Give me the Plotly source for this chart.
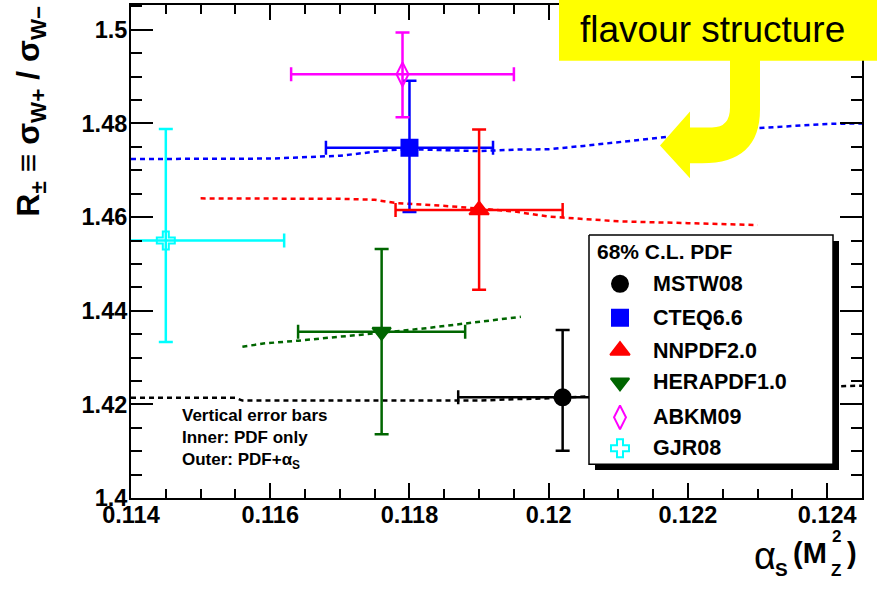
import plotly.graph_objects as go

# ---------------------------------------------------------------- data
pdf_sets = ["MSTW08", "CTEQ6.6", "NNPDF2.0", "HERAPDF1.0", "ABKM09", "GJR08"]
alphas_mz = [0.1202, 0.1180, 0.1190, 0.1176, 0.1179, 0.1145]
alphas_err_up = [0.0012, 0.0012, 0.0012, 0.0012, 0.0016, 0.0017]
alphas_err_down = [0.0015, 0.0012, 0.0012, 0.0012, 0.0016, 0.0017]
ratio = [1.4215, 1.4748, 1.4615, 1.4355, 1.4905, 1.4550]
ratio_err_up = [0.0144, 0.0143, 0.0172, 0.0177, 0.0089, 0.0238]
ratio_err_down = [0.0114, 0.0137, 0.0170, 0.0219, 0.0092, 0.0217]

# R(alpha_s) scans for each group
mstw_scan_alphas = [0.1140, 0.1150, 0.1155, 0.1156, 0.1170, 0.1180, 0.1190,
                    0.1195, 0.1200, 0.1210, 0.1220, 0.1230, 0.1240, 0.1245]
mstw_scan_ratio = [1.4214, 1.4215, 1.4214, 1.4208, 1.4208, 1.4208, 1.4208,
                   1.4211, 1.4213, 1.4220, 1.4227, 1.4233, 1.4238, 1.4240]
cteq_scan_alphas = [0.1140, 0.1150, 0.1160, 0.1170, 0.1177, 0.1180, 0.1190,
                    0.1195, 0.1200, 0.1205, 0.1210, 0.1213, 0.1220, 0.1230,
                    0.1240, 0.1245]
cteq_scan_ratio = [1.4724, 1.4724, 1.4725, 1.4731, 1.4743, 1.4745, 1.4741,
                   1.4744, 1.4745, 1.4752, 1.4760, 1.4765, 1.4776, 1.4790,
                   1.4799, 1.4800]
nnpdf_scan_alphas = [0.1150, 0.1160, 0.1170, 0.1175, 0.1178, 0.1186, 0.1190,
                     0.1195, 0.1200, 0.1210, 0.1220, 0.1230]
nnpdf_scan_ratio = [1.4640, 1.4640, 1.4639, 1.4637, 1.4630, 1.4623, 1.4618,
                    1.4612, 1.4601, 1.4591, 1.4587, 1.4583]
hera_scan_alphas = [0.1156, 0.1159, 0.1164, 0.1170, 0.1176, 0.1182, 0.1188,
                    0.1192, 0.1196]
hera_scan_ratio = [1.4323, 1.4330, 1.4336, 1.4344, 1.4353, 1.4362, 1.4373,
                   1.4380, 1.4387]

x_tick_vals = [0.114, 0.116, 0.118, 0.120, 0.122, 0.124]
x_tick_text = ["0.114", "0.116", "0.118", "0.12", "0.122", "0.124"]
y_tick_vals = [1.40, 1.42, 1.44, 1.46, 1.48, 1.50]
y_tick_text = ["1.4", "1.42", "1.44", "1.46", "1.48", "1.5"]

# ---------------------------------------------------------------- style
colors = ["#000000", "#0000ff", "#ff0000", "#006600", "#ff00ff", "#00ffff"]
symbols = ["circle", "square", "triangle-up", "triangle-down",
           "diamond-tall-open", "cross-open"]
sizes = [16, 16, 17, 16, 17, 15]

W, H = 877, 591
L, R, T, B = 131, 862, 3, 498          # plot-area edges in pixels
FONT = "Liberation Sans"


def px(x):
    return (x - L) / (R - L)


def py(y):
    return (B - y) / (B - T)


fig = go.Figure()

scans = [(mstw_scan_alphas, mstw_scan_ratio, colors[0]),
         (cteq_scan_alphas, cteq_scan_ratio, colors[1]),
         (nnpdf_scan_alphas, nnpdf_scan_ratio, colors[2]),
         (hera_scan_alphas, hera_scan_ratio, colors[3])]
for xs, ys, c in scans:
    fig.add_trace(go.Scatter(x=xs, y=ys, mode="lines", showlegend=False,
                             line=dict(color=c, width=2.5, dash="5px,4px"),
                             hoverinfo="skip"))

for i, name in enumerate(pdf_sets):
    fig.add_trace(go.Scatter(
        x=[alphas_mz[i]], y=[ratio[i]], mode="markers", name=name,
        showlegend=False,
        marker=dict(symbol=symbols[i], size=sizes[i], color=colors[i],
                    opacity=1, line=dict(color=colors[i], width=2)),
        error_x=dict(type="data", symmetric=False, array=[alphas_err_up[i]],
                     arrayminus=[alphas_err_down[i]], color=colors[i],
                     thickness=2.5, width=7),
        error_y=dict(type="data", symmetric=False, array=[ratio_err_up[i]],
                     arrayminus=[ratio_err_down[i]], color=colors[i],
                     thickness=2.5, width=7),
    ))

# ---------------------------------------------------------------- key box
# drawn on a pixel-scaled overlay so it sits above the data
bx0, by0, bx1, by1 = 589, 234, 833, 464
sh = 6
fig.add_trace(go.Scatter(
    x=[bx0 + sh, bx1 + sh, bx1 + sh, bx0 + sh, bx0 + sh],
    y=[by0 + sh, by0 + sh, by1 + sh, by1 + sh, by0 + sh],
    xaxis="x2", yaxis="y2", mode="lines", fill="toself",
    fillcolor="black", line=dict(color="black", width=0),
    showlegend=False, hoverinfo="skip"))
fig.add_trace(go.Scatter(
    x=[bx0, bx1, bx1, bx0, bx0], y=[by0, by0, by1, by1, by0],
    xaxis="x2", yaxis="y2", mode="lines", fill="toself",
    fillcolor="white", line=dict(color="black", width=1.5),
    showlegend=False, hoverinfo="skip"))
key_rows = [283, 317, 350, 382, 417, 448]
fig.add_trace(go.Scatter(
    x=[620] * len(pdf_sets), y=key_rows, xaxis="x2", yaxis="y2",
    mode="markers", cliponaxis=False, showlegend=False, hoverinfo="skip",
    marker=dict(symbol=symbols, size=sizes, color=colors, opacity=1,
                line=dict(color=colors, width=2))))

annotations = [
    dict(x=px(595), y=py(250), text="68% C.L. PDF", xanchor="left",
         yanchor="middle", font=dict(size=21, weight="bold")),
]
for name, yy in zip(pdf_sets, key_rows):
    annotations.append(dict(x=px(651), y=py(yy), text=name, xanchor="left",
                            yanchor="middle",
                            font=dict(size=21.5, weight="bold")))

# note on the error bars
annotations.append(dict(
    x=px(180), y=py(438.5), xanchor="left", yanchor="middle", align="left",
    text="Vertical error bars<br>Inner: PDF only<br>Outer: PDF+α<sub>S</sub>",
    font=dict(size=17, weight="bold")))

# y-axis title
annotations.append(dict(
    x=px(31), y=py(218), xanchor="center", yanchor="bottom", textangle=-90,
    text="R<sub>±</sub> ≡ σ<sub>W+</sub> / σ<sub>W−</sub>",
    font=dict(size=32, weight="bold")))

# x-axis title pieces
annotations += [
    dict(x=px(765), y=py(556), text="α", font=dict(size=38)),
    dict(x=px(781), y=py(570), text="S", font=dict(size=19, weight="bold")),
    dict(x=px(810), y=py(553), text="(M", font=dict(size=29, weight="bold")),
    dict(x=px(836), y=py(537), text="2", font=dict(size=17, weight="bold")),
    dict(x=px(836), y=py(571), text="Z", font=dict(size=17, weight="bold")),
    dict(x=px(852), y=py(553), text=")", font=dict(size=29, weight="bold")),
]
for a in annotations[-6:]:
    a.update(xanchor="center", yanchor="middle")

# callout
annotations.append(dict(x=px(712), y=py(28), text="flavour structure",
                        xanchor="center", yanchor="middle",
                        font=dict(size=37, color="black")))

for a in annotations:
    a.setdefault("showarrow", False)
    a.update(xref="paper", yref="paper")
    a["font"].setdefault("family", FONT)
    a["font"].setdefault("color", "black")

# yellow callout box and bent arrow
arrow_path = (
    f"M {px(730)},{py(55)} L {px(760)},{py(55)} L {px(760)},{py(108)} "
    f"Q {px(760)},{py(162)} {px(702)},{py(162)} "
    f"L {px(690)},{py(162)} L {px(690)},{py(177)} L {px(660)},{py(144)} "
    f"L {px(690)},{py(110)} L {px(690)},{py(126)} L {px(712)},{py(126)} "
    f"Q {px(730)},{py(126)} {px(730)},{py(106)} Z"
)
shapes = [
    dict(type="rect", xref="paper", yref="paper", x0=px(559), x1=px(890),
         y0=py(59), y1=py(-20), fillcolor="#ffff00", line=dict(width=0),
         layer="above"),
    dict(type="path", xref="paper", yref="paper", path=arrow_path,
         fillcolor="#ffff00", line=dict(width=0), layer="above"),
]

axis_common = dict(
    showline=True, linecolor="black", linewidth=2, mirror="ticks",
    ticks="inside", tickcolor="black", tickwidth=1.5,
    showgrid=False, zeroline=False,
    tickfont=dict(family=FONT, size=23.5, color="black", weight="bold"),
)

fig.update_layout(
    width=W, height=H,
    margin=dict(l=L, r=W - R, t=T, b=H - B, pad=0),
    paper_bgcolor="white", plot_bgcolor="white",
    xaxis=dict(range=[0.114, 0.1245], tickvals=x_tick_vals,
               ticktext=x_tick_text, ticklen=15, ticklabelstandoff=-5,
               minor=dict(dtick=0.0005, tick0=0.114, ticklen=9,
                          ticks="inside", tickcolor="black", tickwidth=1.5),
               **axis_common),
    yaxis=dict(range=[1.4, 1.5053], tickvals=y_tick_vals,
               ticktext=y_tick_text, ticklen=22, ticklabelstandoff=-3,
               minor=dict(dtick=0.005, tick0=1.4, ticklen=11,
                          ticks="inside", tickcolor="black", tickwidth=1.5),
               **axis_common),
    xaxis2=dict(overlaying="x", range=[L, R], visible=False),
    yaxis2=dict(overlaying="y", range=[B, T], visible=False),
    annotations=annotations,
    shapes=shapes,
    showlegend=False,
)

fig.write_html("out.html")
